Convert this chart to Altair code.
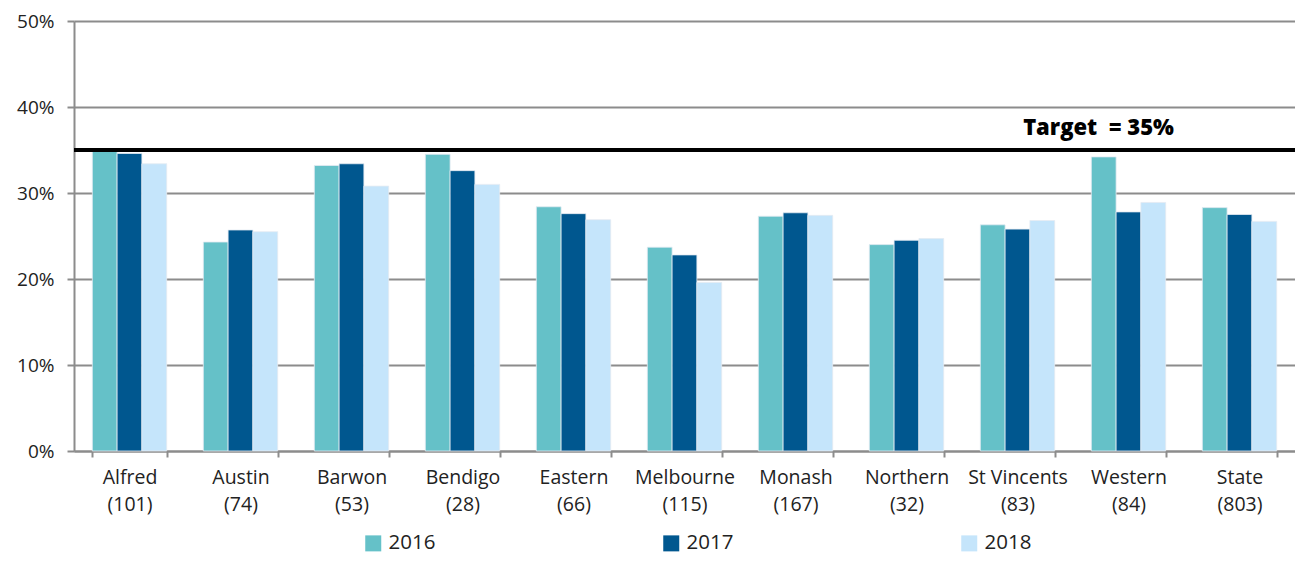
import altair as alt
import pandas as pd

categories = ["Alfred\n(101)", "Austin\n(74)", "Barwon\n(53)", "Bendigo\n(28)", "Eastern\n(66)",
              "Melbourne\n(115)", "Monash\n(167)", "Northern\n(32)", "St Vincents\n(83)",
              "Western\n(84)", "State\n(803)"]
years = ["2016", "2017", "2018"]
v2016 = [0.349, 0.243, 0.332, 0.345, 0.284, 0.237, 0.273, 0.240, 0.263, 0.342, 0.283]
v2017 = [0.346, 0.257, 0.334, 0.326, 0.276, 0.228, 0.277, 0.245, 0.258, 0.278, 0.275]
v2018 = [0.334, 0.255, 0.308, 0.310, 0.269, 0.196, 0.274, 0.247, 0.268, 0.289, 0.267]
target = 0.35
target_label = "Target\u00a0 = 35%"
colors = ["#65C1C8", "#00578F", "#C5E5FB"]

rows = []
for i, c in enumerate(categories):
    for y, vals in zip(years, [v2016, v2017, v2018]):
        rows.append({"cat": c, "year": y, "value": vals[i]})
df = pd.DataFrame(rows)

FONT = "Open Sans"

x_enc = alt.X("cat:N", sort=categories, title=None,
              scale=alt.Scale(paddingInner=0.33, paddingOuter=0.165),
              axis=alt.Axis(labelExpr="split(datum.label, '\\n')", labelAngle=0,
                            labelFontSize=19.5, labelLineHeight=27, labelPadding=11,
                            labelColor="#222222", labelFont=FONT,
                            tickBand="extent", tickSize=6, tickColor="#8c8c8c", tickWidth=2,
                            domainColor="#8c8c8c", domainWidth=2, grid=False))

bars = alt.Chart(df).mark_bar(stroke="#e4ebf2", strokeWidth=0.8).encode(
    x=x_enc,
    xOffset=alt.XOffset("year:N", sort=years),
    y=alt.Y("value:Q", title=None,
            scale=alt.Scale(domain=[0, 0.5]),
            axis=alt.Axis(values=[0, 0.1, 0.2, 0.3, 0.4, 0.5], format=".0%",
                          labelFontSize=19, labelColor="#222222", labelFont=FONT,
                          labelPadding=13, tickSize=7, tickColor="#8c8c8c", tickWidth=2,
                          domainColor="#8c8c8c", domainWidth=2,
                          gridColor="#8c8c8c", gridWidth=2)),
    color=alt.Color("year:N", sort=years,
                    scale=alt.Scale(domain=years, range=colors),
                    legend=alt.Legend(title=None, orient="none", direction="horizontal",
                                      legendX=289, legendY=512,
                                      symbolType="square", symbolSize=256,
                                      symbolStrokeWidth=0, labelFontSize=20.5,
                                      labelFont=FONT, labelColor="#222222",
                                      labelOffset=5, columnPadding=225)),
)

rule = alt.Chart(pd.DataFrame({"t": [target]})).mark_rule(color="black", strokeWidth=4).encode(
    y=alt.Y("t:Q")
)

text = alt.Chart(pd.DataFrame({"t": [target], "lab": [target_label], "cat": [categories[9]]})).mark_text(
    fontSize=22, fontWeight=800, font=FONT, color="black", dx=-30, dy=-22
).encode(
    x=alt.X("cat:N", sort=categories),
    y=alt.Y("t:Q"),
    text="lab:N",
)

chart = alt.layer(bars, rule, text).properties(
    width=1221, height=430,
    autosize=alt.AutoSizeParams(type="none"),
    padding={"left": 66, "top": 13, "right": 0, "bottom": 106},
).configure_view(stroke=None)

chart.save("out.html", embed_options={"renderer": "svg", "actions": False})
